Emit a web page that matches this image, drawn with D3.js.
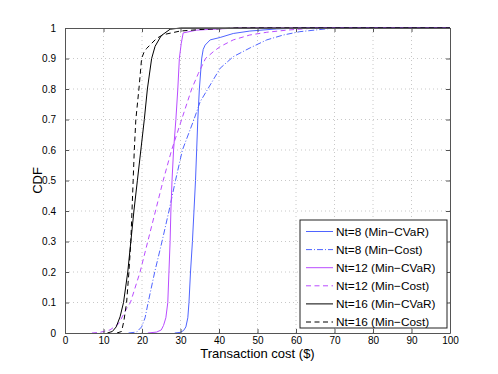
<!DOCTYPE html>
<html>
<head>
<meta charset="utf-8">
<script src="https://cdn.jsdelivr.net/npm/d3@7"></script>
<style>
  body { margin: 0; background: #fff; }
  svg { display: block; }
  text { font-family: "Liberation Sans", Arial, Helvetica, sans-serif; }
</style>
</head>
<body>
<svg id="chart" width="498" height="374"></svg>
<script>
// ---- data ----
const xTicks = [0, 10, 20, 30, 40, 50, 60, 70, 80, 90, 100];
const yTicks = [0, 0.1, 0.2, 0.3, 0.4, 0.5, 0.6, 0.7, 0.8, 0.9, 1];
const yTickLabels = ["0", "0.1", "0.2", "0.3", "0.4", "0.5", "0.6", "0.7", "0.8", "0.9", "1"];

const seriesNames = ["Nt=8 (Min\u2212CVaR)", "Nt=8 (Min\u2212Cost)", "Nt=12 (Min\u2212CVaR)",
                     "Nt=12 (Min\u2212Cost)", "Nt=16 (Min\u2212CVaR)", "Nt=16 (Min\u2212Cost)"];

const nt8CvarX  = [28.5, 29.9, 30.8, 31.4, 31.9, 32.2, 32.6, 33.1, 33.5, 33.9, 34.2, 34.5, 34.9, 35.5, 35.9, 36.4, 37.7, 40.3, 43.7, 48, 55, 62, 100];
const nt8CvarY  = [0, 0.002, 0.008, 0.02, 0.05, 0.1, 0.2, 0.3, 0.4, 0.5, 0.6, 0.7, 0.8, 0.9, 0.93, 0.944, 0.961, 0.969, 0.982, 0.99, 0.997, 1, 1];

const nt8CostX  = [16.5, 18.6, 19.9, 20.8, 21.6, 23.3, 25.2, 27.0, 28.7, 30.5, 33.5, 35.1, 37.7, 40.3, 43.7, 48.1, 52.4, 56.7, 61, 70, 100];
const nt8CostY  = [0, 0.003, 0.02, 0.05, 0.1, 0.2, 0.3, 0.4, 0.5, 0.6, 0.7, 0.758, 0.813, 0.868, 0.906, 0.935, 0.961, 0.977, 0.988, 1, 1];

const nt12CvarX = [21.5, 23.8, 25.0, 25.6, 26.2, 26.7, 27.0, 27.3, 27.5, 27.8, 28.2, 28.8, 29.3, 29.7, 30.2, 30.7, 34.2, 40, 45, 100];
const nt12CvarY = [0, 0.003, 0.01, 0.025, 0.05, 0.1, 0.2, 0.3, 0.4, 0.5, 0.6, 0.7, 0.8, 0.9, 0.95, 0.984, 0.993, 0.997, 1, 1];

const nt12CostX = [7, 9, 11.7, 13.9, 16, 17, 19.5, 21.5, 23.5, 25.5, 27.7, 30.3, 32.9, 34.6, 36.5, 38.5, 40.3, 43.7, 48, 52.4, 57.6, 65, 100];
const nt12CostY = [0, 0.002, 0.01, 0.03, 0.08, 0.1, 0.2, 0.3, 0.4, 0.5, 0.6, 0.7, 0.8, 0.85, 0.9, 0.922, 0.939, 0.961, 0.977, 0.986, 0.993, 1, 1];

const nt16CvarX = [11.0, 12.3, 13.3, 14.3, 15.2, 16.3, 17.1, 17.9, 18.8, 19.7, 20.6, 21.4, 22.5, 23.4, 25, 27.3, 30, 100];
const nt16CvarY = [0, 0.005, 0.02, 0.053, 0.1, 0.2, 0.3, 0.4, 0.5, 0.6, 0.7, 0.8, 0.9, 0.94, 0.975, 0.996, 1, 1];

const nt16CostX = [13.5, 14.7, 15.3, 16.0, 16.6, 17.1, 17.4, 17.7, 18.0, 18.4, 19.2, 19.9, 20.5, 21.2, 23.8, 25.5, 29.9, 35, 45, 100];
const nt16CostY = [0, 0.005, 0.04, 0.1, 0.2, 0.3, 0.4, 0.5, 0.6, 0.7, 0.8, 0.9, 0.92, 0.933, 0.966, 0.978, 0.99, 0.995, 1, 1];

const seriesX = [nt8CvarX, nt8CostX, nt12CvarX, nt12CostX, nt16CvarX, nt16CostX];
const seriesY = [nt8CvarY, nt8CostY, nt12CvarY, nt12CostY, nt16CvarY, nt16CostY];

// ---- styles ----
const colors = ["#4f64ff", "#4f64ff", "#b94cff", "#b94cff", "#000000", "#000000"];
const dashes = [null, "6,2,1,2", null, "5,3.5", null, "5,3.5"];

// ---- layout ----
const svg = d3.select("#chart");
const L = 65, R = 450, T = 28, B = 333;
const x = d3.scaleLinear().domain([0, 100]).range([L, R]);
const y = d3.scaleLinear().domain([0, 1]).range([B, T]);

// grid
const grid = svg.append("g");
grid.selectAll("line.vx").data(xTicks.slice(1, -1)).enter().append("line")
  .attr("x1", d => x(d)).attr("x2", d => x(d)).attr("y1", T).attr("y2", B)
  .attr("stroke", "#c8c8c8").attr("stroke-width", 1).attr("stroke-dasharray", "1,3");
grid.selectAll("line.hy").data(yTicks.slice(1, -1)).enter().append("line")
  .attr("y1", d => y(d)).attr("y2", d => y(d)).attr("x1", L).attr("x2", R)
  .attr("stroke", "#c8c8c8").attr("stroke-width", 1).attr("stroke-dasharray", "1,3");

// curves
const line = d3.line().x(d => x(d[0])).y(d => y(d[1]));
svg.append("clipPath").attr("id", "clip").append("rect")
  .attr("x", L).attr("y", T - 1).attr("width", R - L).attr("height", B - T + 2);
const curves = svg.append("g").attr("clip-path", "url(#clip)");
seriesX.forEach((xs, i) => {
  const pts = xs.map((v, j) => [v, seriesY[i][j]]);
  curves.append("path").attr("d", line(pts))
    .attr("fill", "none").attr("stroke", colors[i]).attr("stroke-width", 1)
    .attr("stroke-dasharray", dashes[i]);
});

// axes (MATLAB style box with inward ticks)
const axisColor = "#555";
const xAxis = d3.axisBottom(x).tickValues(xTicks).tickSizeInner(-4).tickSizeOuter(0).tickPadding(3.5);
const yAxis = d3.axisLeft(y).tickValues(yTicks).tickFormat((d, i) => yTickLabels[i]).tickSizeInner(-4).tickSizeOuter(0).tickPadding(9);
const xTop = d3.axisTop(x).tickValues(xTicks).tickSizeInner(-4).tickSizeOuter(0).tickFormat("");
const yRight = d3.axisRight(y).tickValues(yTicks).tickSizeInner(-4).tickSizeOuter(0).tickFormat("");

const gx = svg.append("g").attr("transform", `translate(0,${B})`).call(xAxis);
const gy = svg.append("g").attr("transform", `translate(${L},0)`).call(yAxis);
const gxt = svg.append("g").attr("transform", `translate(0,${T})`).call(xTop);
const gyr = svg.append("g").attr("transform", `translate(${R},0)`).call(yRight);
[gx, gy, gxt, gyr].forEach(g => {
  g.select(".domain").attr("stroke", axisColor);
  g.selectAll(".tick line").attr("stroke", axisColor);
  g.selectAll("text").attr("font-size", 10).attr("fill", "#000")
    .attr("font-family", "'Liberation Sans', Arial, sans-serif");
});

// axis labels
svg.append("text").attr("x", (L + R) / 2).attr("y", 357.5).attr("text-anchor", "middle")
  .attr("font-size", 13).text("Transaction cost ($)");
svg.append("text").attr("transform", `translate(41.5,${(T + B) / 2}) rotate(-90)`)
  .attr("text-anchor", "middle").attr("font-size", 13).text("CDF");

// legend
const lg = svg.append("g");
lg.append("rect").attr("x", 300).attr("y", 220).attr("width", 147).attr("height", 108)
  .attr("fill", "#fff").attr("stroke", "#222").attr("stroke-width", 1);
seriesNames.forEach((name, i) => {
  const yy = 231.5 + i * 18.1;
  lg.append("line").attr("x1", 306).attr("x2", 333).attr("y1", yy).attr("y2", yy)
    .attr("stroke", colors[i]).attr("stroke-width", 1).attr("stroke-dasharray", dashes[i]);
  lg.append("text").attr("x", 336).attr("y", yy + 4).attr("font-size", 11.8).text(name);
});
</script>
</body>
</html>
